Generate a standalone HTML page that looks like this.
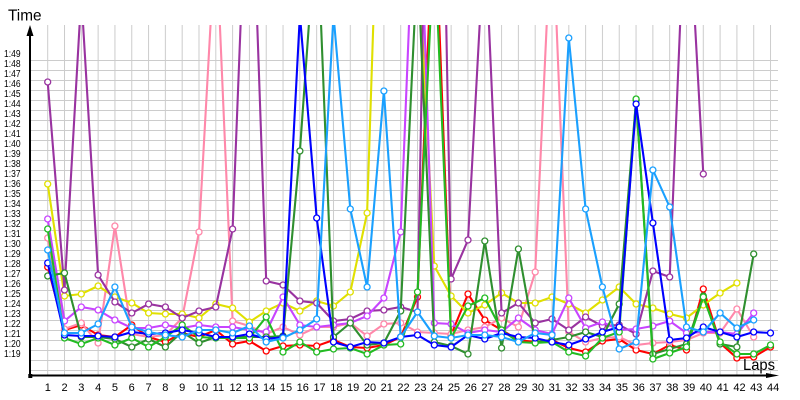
<!DOCTYPE html>
<html>
<head>
<meta charset="utf-8">
<style>
html,body{margin:0;padding:0;background:#fff;}
body{position:relative;width:800px;height:400px;overflow:hidden;font-family:"Liberation Sans",sans-serif;color:#000;}
svg{position:absolute;left:0;top:0;display:block;}
#yl{position:absolute;left:4px;top:50px;font-size:10px;line-height:10px;transform:scaleX(0.85);transform-origin:0 0;white-space:nowrap;}
#xl{position:absolute;left:44.7px;top:382.7px;font-size:11px;line-height:11px;display:flex;white-space:nowrap;}
#xl span{display:block;width:16.81px;flex:none;}
</style>
</head>
<body>
<svg width="800" height="400" viewBox="0 0 800 400" xmlns="http://www.w3.org/2000/svg">
<defs>
<clipPath id="plot"><rect x="30" y="25" width="760" height="352"/></clipPath>
<pattern id="gv" x="47.2" y="0" width="16.81" height="400" patternUnits="userSpaceOnUse"><rect x="0" y="0" width="1" height="400" fill="#cccccc"/></pattern>
<pattern id="gh" x="0" y="60" width="800" height="10" patternUnits="userSpaceOnUse"><rect x="0" y="0" width="800" height="1" fill="#cccccc"/></pattern>
<marker id="mR" markerWidth="10" markerHeight="10" refX="5" refY="5" markerUnits="userSpaceOnUse"><circle cx="5" cy="5" r="3" fill="#fff" stroke="#ff0000" stroke-width="1.3"/></marker>
<marker id="mB" markerWidth="10" markerHeight="10" refX="5" refY="5" markerUnits="userSpaceOnUse"><circle cx="5" cy="5" r="3" fill="#fff" stroke="#0000ff" stroke-width="1.3"/></marker>
<marker id="mG" markerWidth="10" markerHeight="10" refX="5" refY="5" markerUnits="userSpaceOnUse"><circle cx="5" cy="5" r="3" fill="#fff" stroke="#22bb22" stroke-width="1.3"/></marker>
<marker id="mD" markerWidth="10" markerHeight="10" refX="5" refY="5" markerUnits="userSpaceOnUse"><circle cx="5" cy="5" r="3" fill="#fff" stroke="#2f8f2f" stroke-width="1.3"/></marker>
<marker id="mL" markerWidth="10" markerHeight="10" refX="5" refY="5" markerUnits="userSpaceOnUse"><circle cx="5" cy="5" r="3" fill="#fff" stroke="#1aa0ff" stroke-width="1.3"/></marker>
<marker id="mP" markerWidth="10" markerHeight="10" refX="5" refY="5" markerUnits="userSpaceOnUse"><circle cx="5" cy="5" r="3" fill="#fff" stroke="#ff88aa" stroke-width="1.3"/></marker>
<marker id="mV" markerWidth="10" markerHeight="10" refX="5" refY="5" markerUnits="userSpaceOnUse"><circle cx="5" cy="5" r="3" fill="#fff" stroke="#c844ff" stroke-width="1.3"/></marker>
<marker id="mU" markerWidth="10" markerHeight="10" refX="5" refY="5" markerUnits="userSpaceOnUse"><circle cx="5" cy="5" r="3" fill="#fff" stroke="#9933a0" stroke-width="1.3"/></marker>
<marker id="mY" markerWidth="10" markerHeight="10" refX="5" refY="5" markerUnits="userSpaceOnUse"><circle cx="5" cy="5" r="3" fill="#fff" stroke="#e0e000" stroke-width="1.3"/></marker>
</defs>
<rect x="47" y="25" width="724.5" height="350" fill="url(#gv)"/>
<rect x="30" y="60" width="748" height="311" fill="url(#gh)"/>
<g clip-path="url(#plot)" fill="none" stroke-width="2.1" stroke-linejoin="miter">
<polyline stroke="#ff0000" marker-start="url(#mR)" marker-mid="url(#mR)" marker-end="url(#mR)" points="47.7,267 64.5,330 81.3,325 98.1,335 114.9,337 131.8,325 148.6,337 165.4,342 182.2,333 199,337 215.8,330 232.6,344 249.4,341 266.2,351 283,346 299.9,345 316.7,346 333.5,340 350.3,347 367.1,348 383.9,345 400.7,337 417.5,297 434.3,-106 451.1,335 468,294 484.8,320 501.6,330 518.4,340 535.2,342 552,340 568.8,348 585.6,352 602.4,341 619.2,339 636.1,350 652.9,354 669.7,345 686.5,350 703.3,289 720.1,343 736.9,358 753.7,357 770.5,347"/>
<polyline stroke="#ff88aa" marker-start="url(#mP)" marker-mid="url(#mP)" marker-end="url(#mP)" points="47.7,238 64.5,329 81.3,323 98.1,343 114.9,226 131.8,334 148.6,337 165.4,335 182.2,318 199,232 215.8,-70 232.6,321 249.4,326 266.2,334 283,327 299.9,335 316.7,327 333.5,327 350.3,323 367.1,336 383.9,324 400.7,323 417.5,332 434.3,333 451.1,334 468,330 484.8,327 501.6,318 518.4,327 535.2,272 552,-89 568.8,332 585.6,342 602.4,338 619.2,337 636.1,345 652.9,343 669.7,342 686.5,340 703.3,333 720.1,333 736.9,309 753.7,337"/>
<polyline stroke="#e0e000" marker-start="url(#mY)" marker-mid="url(#mY)" marker-end="url(#mY)" points="47.7,184 64.5,296 81.3,294 98.1,286 114.9,297 131.8,303 148.6,313 165.4,314 182.2,314 199,318 215.8,304 232.6,308 249.4,322 266.2,311 283,303 299.9,311 316.7,301 333.5,306 350.3,292 367.1,213 383.9,-300 400.7,-300 417.5,-60 434.3,266 451.1,296 468,313 484.8,305 501.6,293 518.4,303 535.2,303 552,297 568.8,304 585.6,313 602.4,300 619.2,287 636.1,304 652.9,308 669.7,314 686.5,318 703.3,305 720.1,293 736.9,283"/>
<polyline stroke="#9933a0" marker-start="url(#mU)" marker-mid="url(#mU)" marker-end="url(#mU)" points="47.7,82 64.5,290 81.3,-5 98.1,275 114.9,302 131.8,313 148.6,304 165.4,307 182.2,318 199,311 215.8,307 232.6,229 249.4,-200 266.2,281 283,285 299.9,301 316.7,303 333.5,321 350.3,319 367.1,311 383.9,310 400.7,307 417.5,312 434.3,-600 451.1,279 468,240 484.8,-70 501.6,313 518.4,303 535.2,323 552,319 568.8,330 585.6,317 602.4,326 619.2,325 636.1,334 652.9,271 669.7,277 686.5,-130 703.3,174"/>
<polyline stroke="#c844ff" marker-start="url(#mV)" marker-mid="url(#mV)" marker-end="url(#mV)" points="47.7,219 64.5,321 81.3,307 98.1,310 114.9,320 131.8,328 148.6,328 165.4,325 182.2,328 199,325 215.8,327 232.6,327 249.4,330 266.2,332 283,297 299.9,325 316.7,327 333.5,325 350.3,323 367.1,316 383.9,298 400.7,232 417.5,-187 434.3,323 451.1,324 468,333 484.8,330 501.6,332 518.4,318 535.2,330 552,334 568.8,298 585.6,328 602.4,322 619.2,330 636.1,329 652.9,326 669.7,321 686.5,333 703.3,332 720.1,332 736.9,334 753.7,313"/>
<polyline stroke="#2f8f2f" marker-start="url(#mD)" marker-mid="url(#mD)" marker-end="url(#mD)" points="47.7,276 64.5,273 81.3,337 98.1,337 114.9,339 131.8,347 148.6,339 165.4,347 182.2,332 199,343 215.8,337 232.6,337 249.4,337 266.2,337 283,336 299.9,151 316.7,-85 333.5,337 350.3,323 367.1,345 383.9,343 400.7,311 417.5,-40 434.3,342 451.1,346 468,354 484.8,241 501.6,348 518.4,249 535.2,342 552,340 568.8,337 585.6,332 602.4,337 619.2,304 636.1,100 652.9,354 669.7,349 686.5,344 703.3,296 720.1,344 736.9,347 753.7,254"/>
<polyline stroke="#22bb22" marker-start="url(#mG)" marker-mid="url(#mG)" marker-end="url(#mG)" points="47.7,229 64.5,338 81.3,344 98.1,338 114.9,345 131.8,338 148.6,347 165.4,337 182.2,325 199,337 215.8,338 232.6,338 249.4,338 266.2,317 283,352 299.9,342 316.7,352 333.5,349 350.3,348 367.1,354 383.9,345 400.7,344 417.5,292 434.3,-61 451.1,338 468,306 484.8,298 501.6,330 518.4,342 535.2,343 552,342 568.8,352 585.6,356 602.4,338 619.2,332 636.1,99 652.9,359 669.7,353 686.5,347 703.3,297 720.1,342 736.9,354 753.7,354 770.5,345"/>
<polyline stroke="#0000ff" marker-start="url(#mB)" marker-mid="url(#mB)" marker-end="url(#mB)" points="47.7,263 64.5,335 81.3,336 98.1,336 114.9,337 131.8,332 148.6,334 165.4,333 182.2,330 199,333 215.8,337 232.6,337 249.4,334 266.2,339 283,337 299.9,15 316.7,218 333.5,342 350.3,347 367.1,342 383.9,343 400.7,337 417.5,335 434.3,345 451.1,347 468,335 484.8,339 501.6,333 518.4,337 535.2,338 552,342 568.8,345 585.6,339 602.4,332 619.2,327 636.1,104 652.9,223 669.7,340 686.5,338 703.3,327 720.1,332 736.9,337 753.7,332 770.5,333"/>
<polyline stroke="#1aa0ff" marker-start="url(#mL)" marker-mid="url(#mL)" marker-end="url(#mL)" points="47.7,250 64.5,333 81.3,333 98.1,324 114.9,287 131.8,327 148.6,332 165.4,335 182.2,337 199,330 215.8,330 232.6,333 249.4,326 266.2,342 283,338 299.9,330 316.7,319 333.5,15 350.3,209 367.1,287 383.9,91 400.7,337 417.5,312 434.3,336 451.1,338 468,335 484.8,335 501.6,337 518.4,342 535.2,333 552,335 568.8,38 585.6,209 602.4,287 619.2,349 636.1,342 652.9,170 669.7,207 686.5,327 703.3,332 720.1,313 736.9,328 753.7,320"/>
</g>
<g fill="#000" stroke="none">
<rect x="29" y="35" width="2" height="342"/>
<polygon points="30,25 26.5,36 33.5,36"/>
<rect x="30" y="374.5" width="740" height="2"/>
<polygon points="779,375.5 766,373 766,378"/>
<rect x="28.3" y="374" width="4" height="4"/>
</g>
<text x="8" y="20.5" font-family="Liberation Sans, sans-serif" font-size="16" textLength="33.5" lengthAdjust="spacingAndGlyphs">Time</text>
<text x="743" y="370" font-family="Liberation Sans, sans-serif" font-size="16" textLength="32" lengthAdjust="spacingAndGlyphs">Laps</text>
</svg>
<div id="yl">1:49<br>1:48<br>1:47<br>1:46<br>1:45<br>1:44<br>1:43<br>1:42<br>1:41<br>1:40<br>1:39<br>1:38<br>1:37<br>1:36<br>1:35<br>1:34<br>1:33<br>1:32<br>1:31<br>1:30<br>1:29<br>1:28<br>1:27<br>1:26<br>1:25<br>1:24<br>1:23<br>1:22<br>1:21<br>1:20<br>1:19</div>
<div id="xl"><span>1</span><span>2</span><span>3</span><span>4</span><span>5</span><span>6</span><span>7</span><span>8</span><span>9</span><span>10</span><span>11</span><span>12</span><span>13</span><span>14</span><span>15</span><span>16</span><span>17</span><span>18</span><span>19</span><span>20</span><span>21</span><span>22</span><span>23</span><span>24</span><span>25</span><span>26</span><span>27</span><span>28</span><span>29</span><span>30</span><span>31</span><span>32</span><span>33</span><span>34</span><span>35</span><span>36</span><span>37</span><span>38</span><span>39</span><span>40</span><span>41</span><span>42</span><span>43</span><span>44</span></div>
</body>
</html>
